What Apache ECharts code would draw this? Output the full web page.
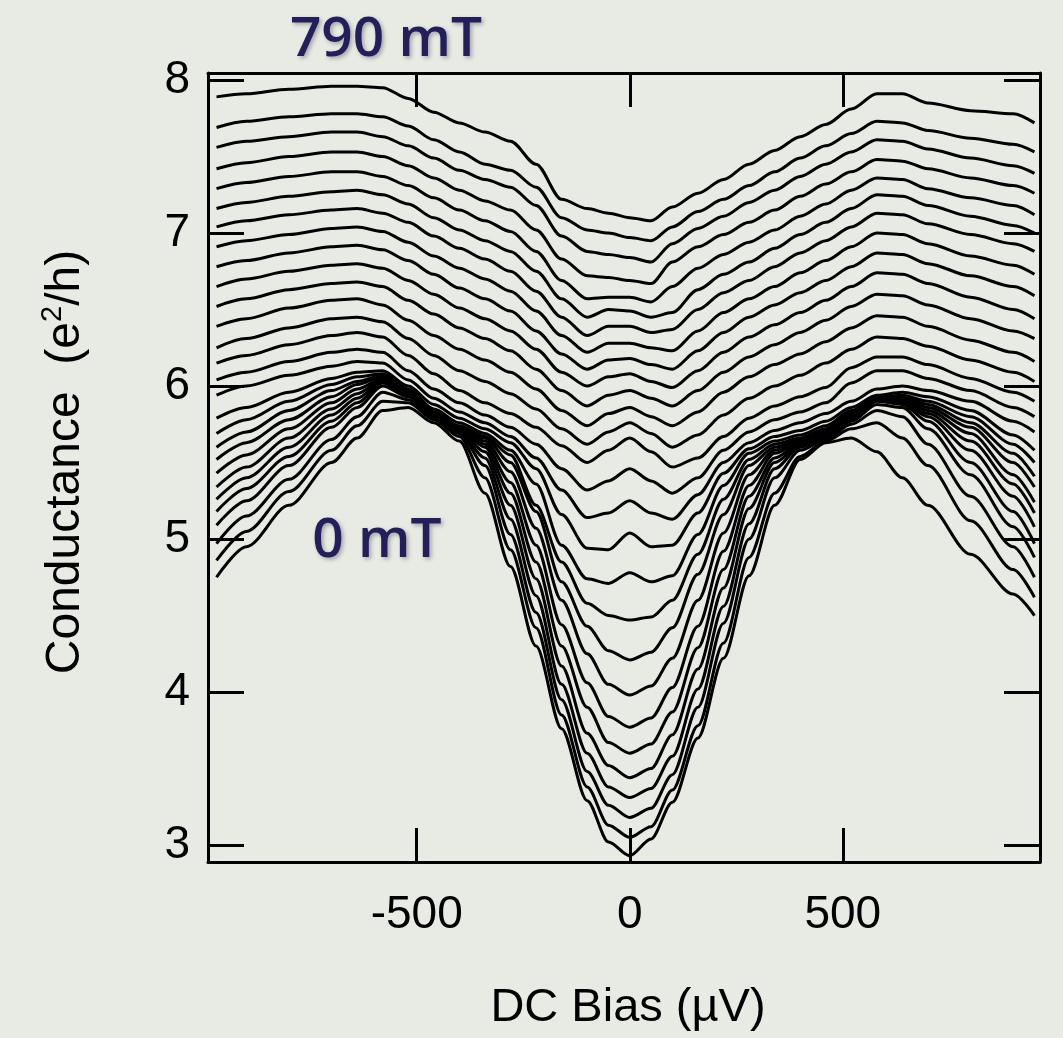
<!DOCTYPE html>
<html>
<head>
<meta charset="utf-8">
<script src="https://cdn.jsdelivr.net/npm/echarts@6/dist/echarts.min.js"></script>
<style>
html,body{margin:0;padding:0;background:#e8eae4;}
#chart{width:1063px;height:1038px;}
</style>
</head>
<body>
<div id="chart"></div>
<script>
// DC bias sample positions (µV)
const bias = [-970, -900, -800, -700, -640, -580, -520, -460, -400, -340, -280, -220, -160, -100, -50, 0, 50, 100, 160, 220, 280, 340, 400, 460, 520, 580, 640, 700, 800, 900, 950];

// Conductance traces (e^2/h), from 0 mT (curve01) to 790 mT (curve28)
const curve01 = [4.75, 4.95, 5.22, 5.50, 5.66, 5.84, 5.86, 5.76, 5.64, 5.30, 4.82, 4.30, 3.76, 3.29, 3.02, 2.93, 3.04, 3.28, 3.70, 4.22, 4.76, 5.22, 5.52, 5.63, 5.66, 5.57, 5.40, 5.22, 4.90, 4.64, 4.50];
const curve02 = [4.86, 5.05, 5.31, 5.58, 5.74, 5.90, 5.89, 5.78, 5.67, 5.40, 4.93, 4.42, 3.85, 3.38, 3.13, 3.05, 3.12, 3.36, 3.78, 4.32, 4.88, 5.30, 5.54, 5.64, 5.72, 5.76, 5.66, 5.48, 5.12, 4.80, 4.62];
const curve03 = [4.97, 5.15, 5.39, 5.65, 5.80, 5.96, 5.91, 5.79, 5.69, 5.48, 5.03, 4.52, 3.95, 3.48, 3.26, 3.18, 3.24, 3.46, 3.90, 4.45, 5.00, 5.40, 5.58, 5.65, 5.75, 5.84, 5.80, 5.62, 5.28, 4.95, 4.75];
const curve04 = [5.09, 5.25, 5.48, 5.73, 5.86, 6.00, 5.93, 5.80, 5.70, 5.53, 5.13, 4.63, 4.05, 3.60, 3.38, 3.31, 3.37, 3.58, 4.02, 4.56, 5.10, 5.46, 5.60, 5.66, 5.77, 5.88, 5.86, 5.72, 5.42, 5.08, 4.88];
const curve05 = [5.18, 5.33, 5.54, 5.77, 5.89, 6.02, 5.94, 5.81, 5.71, 5.57, 5.22, 4.74, 4.17, 3.73, 3.52, 3.44, 3.50, 3.72, 4.15, 4.68, 5.20, 5.50, 5.61, 5.67, 5.78, 5.90, 5.88, 5.77, 5.50, 5.18, 4.97];
const curve06 = [5.26, 5.40, 5.60, 5.81, 5.92, 6.03, 5.95, 5.81, 5.72, 5.60, 5.30, 4.85, 4.30, 3.90, 3.67, 3.60, 3.66, 3.87, 4.29, 4.80, 5.28, 5.53, 5.62, 5.68, 5.79, 5.91, 5.89, 5.80, 5.58, 5.28, 5.08];
const curve07 = [5.34, 5.47, 5.66, 5.85, 5.95, 6.04, 5.95, 5.82, 5.72, 5.62, 5.37, 4.96, 4.44, 4.06, 3.84, 3.77, 3.83, 4.03, 4.43, 4.92, 5.35, 5.56, 5.63, 5.69, 5.80, 5.91, 5.90, 5.82, 5.64, 5.36, 5.17];
const curve08 = [5.43, 5.55, 5.72, 5.89, 5.98, 6.05, 5.96, 5.82, 5.73, 5.64, 5.44, 5.07, 4.60, 4.25, 4.05, 3.98, 4.04, 4.22, 4.60, 5.04, 5.42, 5.58, 5.64, 5.70, 5.81, 5.92, 5.91, 5.84, 5.69, 5.42, 5.24];
const curve09 = [5.52, 5.63, 5.78, 5.93, 6.01, 6.06, 5.96, 5.83, 5.73, 5.66, 5.50, 5.18, 4.72, 4.43, 4.27, 4.21, 4.26, 4.42, 4.77, 5.16, 5.48, 5.60, 5.65, 5.71, 5.82, 5.92, 5.92, 5.86, 5.73, 5.50, 5.34];
const curve10 = [5.60, 5.70, 5.84, 5.97, 6.03, 6.07, 5.97, 5.83, 5.74, 5.67, 5.55, 5.22, 4.85, 4.58, 4.50, 4.47, 4.49, 4.60, 4.90, 5.26, 5.52, 5.62, 5.66, 5.72, 5.83, 5.93, 5.93, 5.88, 5.76, 5.56, 5.41];
const curve11 = [5.69, 5.78, 5.90, 6.01, 6.06, 6.08, 5.98, 5.85, 5.76, 5.69, 5.58, 5.36, 4.96, 4.74, 4.71, 4.78, 4.72, 4.76, 5.03, 5.35, 5.56, 5.64, 5.68, 5.74, 5.84, 5.93, 5.94, 5.90, 5.80, 5.62, 5.50];
const curve12 = [5.79, 5.86, 5.96, 6.05, 6.09, 6.10, 6.00, 5.88, 5.79, 5.72, 5.63, 5.46, 5.16, 4.94, 4.93, 5.04, 4.95, 4.96, 5.17, 5.43, 5.59, 5.67, 5.71, 5.77, 5.86, 5.94, 5.96, 5.93, 5.84, 5.68, 5.58];
const curve13 = [5.94, 6.00, 6.07, 6.13, 6.16, 6.15, 6.04, 5.92, 5.83, 5.76, 5.67, 5.53, 5.32, 5.14, 5.17, 5.25, 5.17, 5.13, 5.29, 5.50, 5.63, 5.71, 5.76, 5.82, 5.90, 5.98, 6.00, 5.97, 5.90, 5.77, 5.70];
const curve14 = [6.04, 6.09, 6.16, 6.22, 6.24, 6.22, 6.10, 5.98, 5.89, 5.81, 5.73, 5.62, 5.46, 5.32, 5.38, 5.46, 5.38, 5.30, 5.40, 5.58, 5.70, 5.78, 5.83, 5.89, 6.02, 6.10, 6.10, 6.05, 5.97, 5.86, 5.80];
const curve15 = [6.15, 6.20, 6.27, 6.33, 6.35, 6.32, 6.20, 6.08, 5.97, 5.89, 5.82, 5.73, 5.61, 5.50, 5.58, 5.66, 5.57, 5.47, 5.53, 5.67, 5.79, 5.87, 5.93, 5.99, 6.12, 6.19, 6.19, 6.14, 6.05, 5.96, 5.90];
const curve16 = [6.25, 6.31, 6.38, 6.44, 6.45, 6.42, 6.31, 6.20, 6.10, 6.03, 5.95, 5.85, 5.72, 5.62, 5.70, 5.76, 5.69, 5.60, 5.68, 5.81, 5.92, 6.00, 6.07, 6.15, 6.24, 6.32, 6.31, 6.26, 6.17, 6.09, 6.03];
const curve17 = [6.39, 6.44, 6.51, 6.56, 6.57, 6.53, 6.43, 6.33, 6.24, 6.17, 6.09, 5.98, 5.84, 5.74, 5.82, 5.86, 5.80, 5.74, 5.83, 5.96, 6.06, 6.14, 6.21, 6.29, 6.38, 6.46, 6.45, 6.39, 6.30, 6.22, 6.16];
const curve18 = [6.52, 6.57, 6.63, 6.67, 6.68, 6.65, 6.56, 6.47, 6.38, 6.31, 6.23, 6.11, 5.97, 5.87, 5.94, 5.97, 5.92, 5.87, 5.97, 6.09, 6.19, 6.27, 6.35, 6.43, 6.52, 6.60, 6.59, 6.53, 6.44, 6.36, 6.31];
const curve19 = [6.65, 6.70, 6.75, 6.79, 6.80, 6.77, 6.69, 6.60, 6.51, 6.44, 6.36, 6.24, 6.09, 6.00, 6.06, 6.08, 6.03, 5.99, 6.10, 6.22, 6.32, 6.40, 6.48, 6.56, 6.65, 6.74, 6.73, 6.67, 6.58, 6.50, 6.44];
const curve20 = [6.78, 6.82, 6.87, 6.91, 6.92, 6.89, 6.82, 6.73, 6.64, 6.57, 6.49, 6.36, 6.21, 6.11, 6.17, 6.18, 6.14, 6.11, 6.23, 6.35, 6.45, 6.53, 6.61, 6.69, 6.78, 6.87, 6.86, 6.80, 6.72, 6.65, 6.59];
const curve21 = [6.91, 6.95, 6.99, 7.03, 7.04, 7.01, 6.94, 6.85, 6.77, 6.70, 6.62, 6.49, 6.33, 6.22, 6.28, 6.28, 6.25, 6.23, 6.36, 6.48, 6.57, 6.65, 6.74, 6.82, 6.91, 7.00, 6.99, 6.93, 6.85, 6.79, 6.73];
const curve22 = [7.04, 7.08, 7.12, 7.15, 7.16, 7.13, 7.07, 6.98, 6.90, 6.83, 6.75, 6.62, 6.45, 6.33, 6.39, 6.39, 6.35, 6.37, 6.50, 6.61, 6.69, 6.78, 6.87, 6.95, 7.04, 7.13, 7.12, 7.06, 6.99, 6.93, 6.88];
const curve23 = [7.16, 7.20, 7.24, 7.27, 7.28, 7.25, 7.19, 7.10, 7.02, 6.95, 6.88, 6.75, 6.57, 6.45, 6.50, 6.49, 6.45, 6.48, 6.63, 6.73, 6.81, 6.90, 6.99, 7.07, 7.16, 7.25, 7.24, 7.18, 7.11, 7.05, 7.00];
const curve24 = [7.29, 7.33, 7.37, 7.40, 7.40, 7.37, 7.31, 7.23, 7.15, 7.08, 7.01, 6.88, 6.69, 6.57, 6.58, 6.58, 6.55, 6.65, 6.77, 6.86, 6.94, 7.02, 7.11, 7.19, 7.28, 7.36, 7.35, 7.29, 7.23, 7.18, 7.12];
const curve25 = [7.42, 7.46, 7.50, 7.53, 7.53, 7.50, 7.44, 7.36, 7.28, 7.21, 7.15, 7.02, 6.83, 6.72, 6.71, 6.69, 6.67, 6.81, 6.91, 6.99, 7.07, 7.15, 7.24, 7.32, 7.40, 7.48, 7.47, 7.42, 7.36, 7.31, 7.26];
const curve26 = [7.56, 7.60, 7.63, 7.66, 7.66, 7.63, 7.57, 7.49, 7.41, 7.35, 7.30, 7.18, 6.98, 6.88, 6.86, 6.84, 6.81, 6.93, 7.03, 7.11, 7.20, 7.28, 7.37, 7.45, 7.53, 7.61, 7.60, 7.55, 7.49, 7.44, 7.39];
const curve27 = [7.69, 7.73, 7.76, 7.78, 7.78, 7.76, 7.70, 7.61, 7.53, 7.45, 7.41, 7.30, 7.10, 7.02, 7.00, 6.97, 6.95, 7.04, 7.14, 7.22, 7.31, 7.40, 7.49, 7.57, 7.65, 7.73, 7.72, 7.67, 7.62, 7.58, 7.53];
const curve28 = [7.89, 7.91, 7.94, 7.96, 7.96, 7.95, 7.88, 7.79, 7.72, 7.66, 7.60, 7.45, 7.22, 7.16, 7.13, 7.10, 7.08, 7.17, 7.26, 7.35, 7.45, 7.54, 7.63, 7.71, 7.81, 7.91, 7.91, 7.85, 7.80, 7.78, 7.72];

const xTicks = [-500, 0, 500];
const yTicks = [3, 4, 5, 6, 7, 8];
const lowLabel = '0 mT';
const highLabel = '790 mT';

const curves = [curve01, curve02, curve03, curve04, curve05, curve06, curve07, curve08, curve09, curve10,
  curve11, curve12, curve13, curve14, curve15, curve16, curve17, curve18, curve19, curve20,
  curve21, curve22, curve23, curve24, curve25, curve26, curve27, curve28];

const chart = echarts.init(document.getElementById('chart'), null, {renderer: 'canvas'});
const FONT = "'Liberation Sans', Arial, Helvetica, sans-serif";
const ANN_FONT = "'Open Sans', Lato, 'Noto Sans', sans-serif";
const axisLineStyle = {color: '#000', width: 3};
const tickStyle = {color: '#000', width: 3};

function xAx(pos, showLabel) {
  return {
    type: 'value', position: pos, min: -990, max: 963,
    axisLine: {show: true, onZero: false, lineStyle: axisLineStyle},
    axisTick: {show: true, inside: true, length: 34, lineStyle: tickStyle, customValues: xTicks},
    axisLabel: {show: showLabel, customValues: xTicks, fontSize: 46, color: '#000', fontFamily: FONT, margin: 30},
    splitLine: {show: false}
  };
}
function yAx(pos, showLabel) {
  return {
    type: 'value', position: pos, min: 2.889, max: 8.046,
    axisLine: {show: true, onZero: false, lineStyle: axisLineStyle},
    axisTick: {show: true, inside: true, length: 36, lineStyle: tickStyle, customValues: yTicks},
    axisLabel: {show: showLabel, customValues: yTicks, fontSize: 46, color: '#000', fontFamily: FONT, margin: 18},
    splitLine: {show: false}
  };
}

const series = curves.map((c, i) => ({
  type: 'line',
  xAxisIndex: 0, yAxisIndex: 0,
  data: bias.map((b, j) => [b, c[j]]),
  showSymbol: false,
  smooth: 0.3,
  smoothMonotone: 'x',
  lineStyle: {color: '#000', width: 3},
  silent: true,
  animation: false
}));

const annColor = '#231e5c';
const annShadow = {textShadowColor: 'rgba(0,0,0,0.3)', textShadowBlur: 4, textShadowOffsetX: 2, textShadowOffsetY: 2};
chart.setOption({
  backgroundColor: '#e8eae4',
  animation: false,
  grid: {left: 208, right: 23, top: 73, bottom: 176},
  xAxis: [xAx('bottom', true), xAx('top', false)],
  yAxis: [yAx('left', true), yAx('right', false)],
  series: series,
  graphic: [
    {type: 'text', x: 628, y: 1008, style: {text: 'DC Bias (µV)', fontSize: 47, fontFamily: FONT, fill: '#000', align: 'center', verticalAlign: 'middle'}},
    {type: 'text', x: 66, y: 462, rotation: Math.PI / 2,
      style: {text: 'Conductance  (e{sup|2}/h)', fontSize: 48, fontFamily: FONT, fill: '#000', align: 'center', verticalAlign: 'middle',
        rich: {sup: {fontSize: 29, fontFamily: FONT, fill: '#000', padding: [0, 0, 26, 0]}}}},
    {type: 'text', x: 386, y: 40, style: Object.assign({text: highLabel, fontSize: 55, fontWeight: 600, fontFamily: ANN_FONT, fill: annColor, align: 'center', verticalAlign: 'middle'}, annShadow)},
    {type: 'text', x: 377, y: 541, style: Object.assign({text: lowLabel, fontSize: 55, fontWeight: 600, fontFamily: ANN_FONT, fill: annColor, align: 'center', verticalAlign: 'middle'}, annShadow)}
  ]
});
</script>
</body>
</html>
